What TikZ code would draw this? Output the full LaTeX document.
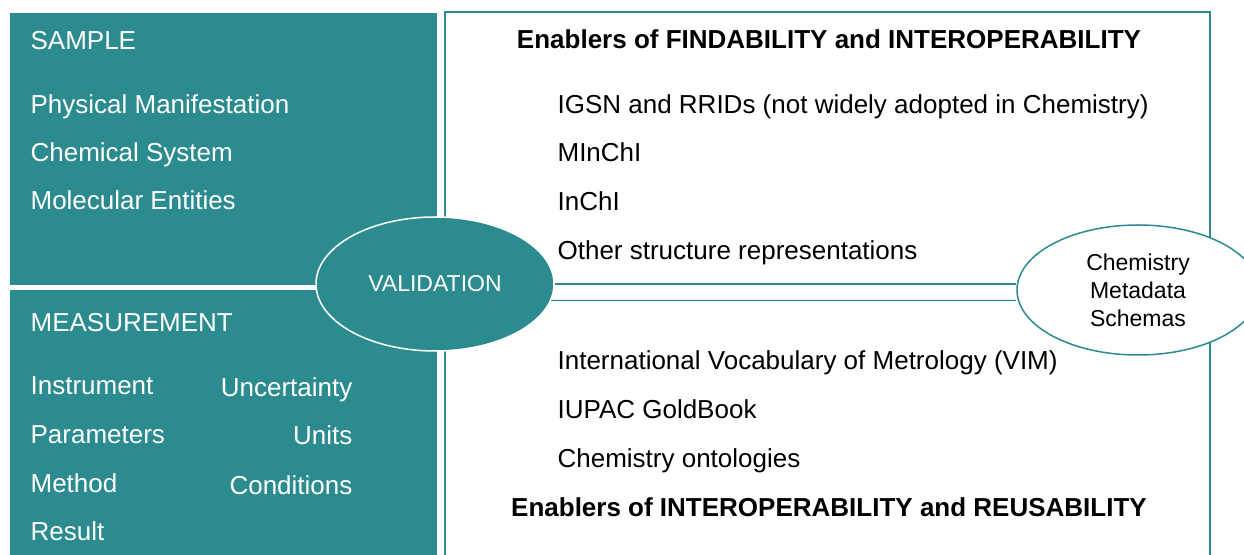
\documentclass[tikz,border=0pt]{standalone}
\usepackage{fontspec}
\setmainfont{Liberation Sans}
\usepackage{xcolor}
\usetikzlibrary{arrows,positioning,shapes,shapes.geometric}
\definecolor{fairteal}{RGB}{43,139,143}

\begin{document}
\begin{tikzpicture}[
            x = 0.5pt, y = -0.5pt, % one unit is one pixel of the layout
            semithick % line style
        ]

        \tikzstyle{panel}=[
            draw = none,
            fill = fairteal,
            anchor = north west,
            inner sep = 0pt
        ]
        \tikzstyle{txt}=[
            anchor = base west,
            inner sep = 0pt,
            font = \fontsize{13}{15}\selectfont
        ]
        \tikzstyle{wtxt}=[txt, text = white]
        \tikzstyle{head}=[txt, anchor = base, font = \fontsize{13}{15}\selectfont\bfseries]
        \tikzstyle{link}=[draw = fairteal, line width = 0.75pt]

        \useasboundingbox (0,0) rectangle (1244,555);

        % Panels
        \node[panel, fill = white, draw = fairteal, line width = 0.8pt,
              minimum width = 765*0.5pt, minimum height = 580*0.5pt] (enablers) [at={(444,11)}] {};
        \node[panel, minimum width = 427*0.5pt, minimum height = 272*0.5pt] (sample) [at={(9,12)}] {};
        \node[panel, minimum width = 427*0.5pt, minimum height = 280*0.5pt] (measure) [at={(9,289)}] {};

        % Sample
        \node[wtxt] (s0) [at={(30,49.5)}] {SAMPLE};
        \node[wtxt] (s1) [at={(30,113.5)}] {Physical Manifestation};
        \node[wtxt] (s2) [at={(30,161.5)}] {Chemical System};
        \node[wtxt] (s3) [at={(30,209.5)}] {Molecular Entities};
        % Measurement
        \node[wtxt] (m0) [at={(30,332)}] {MEASUREMENT};
        \node[wtxt] (m1) [at={(30,394.5)}] {Instrument};
        \node[wtxt] (m2) [at={(30,443.5)}] {Parameters};
        \node[wtxt] (m3) [at={(30,492.5)}] {Method};
        \node[wtxt] (m4) [at={(30,540.5)}] {Result};
        \node[wtxt, anchor = base east] (m5) [at={(353,396.5)}] {Uncertainty};
        \node[wtxt, anchor = base east] (m6) [at={(353,444.5)}] {Units};
        \node[wtxt, anchor = base east] (m7) [at={(353,494.5)}] {Conditions};

        % Enablers
        \node[head] (f0) [at={(829,49)}] {Enablers of FINDABILITY and INTEROPERABILITY};
        \node[txt] (f1) [at={(557,113.5)}] {IGSN and RRIDs (not widely adopted in Chemistry)};
        \node[txt] (f2) [at={(557,161.5)}] {MInChI};
        \node[txt] (f3) [at={(557,210.5)}] {InChI};
        \node[txt] (f4) [at={(557,259.5)}] {Other structure representations};
        \node[txt] (r1) [at={(557,369.5)}] {International Vocabulary of Metrology (VIM)};
        \node[txt] (r2) [at={(557,418.5)}] {IUPAC GoldBook};
        \node[txt] (r3) [at={(557,467.5)}] {Chemistry ontologies};
        \node[head] (r0) [at={(829,516.5)}] {Enablers of INTEROPERABILITY and REUSABILITY};

        % Ellipses
        \node[ellipse, draw = white, fill = fairteal, line width = 0.75pt, inner sep = 0pt,
              minimum width = 238*0.5pt, minimum height = 134*0.5pt, text = white,
              font = \fontsize{11.5}{13}\selectfont] (valid) [at={(435,284)}] {\raisebox{-1pt}{VALIDATION}};
        \node[ellipse, draw = fairteal, fill = white, line width = 0.75pt, inner sep = 0pt,
              minimum width = 242*0.5pt, minimum height = 130*0.5pt, align = center,
              font = \fontsize{11.5}{14}\selectfont] (schema) [at={(1138,290)}] {Chemistry\\Metadata\\Schemas};

        \path[link] (valid.east) edge (valid.east -| schema.west);
        \path[link] (valid.-8) edge (valid.-8 -| schema.west);
      \end{tikzpicture}
\end{document}
